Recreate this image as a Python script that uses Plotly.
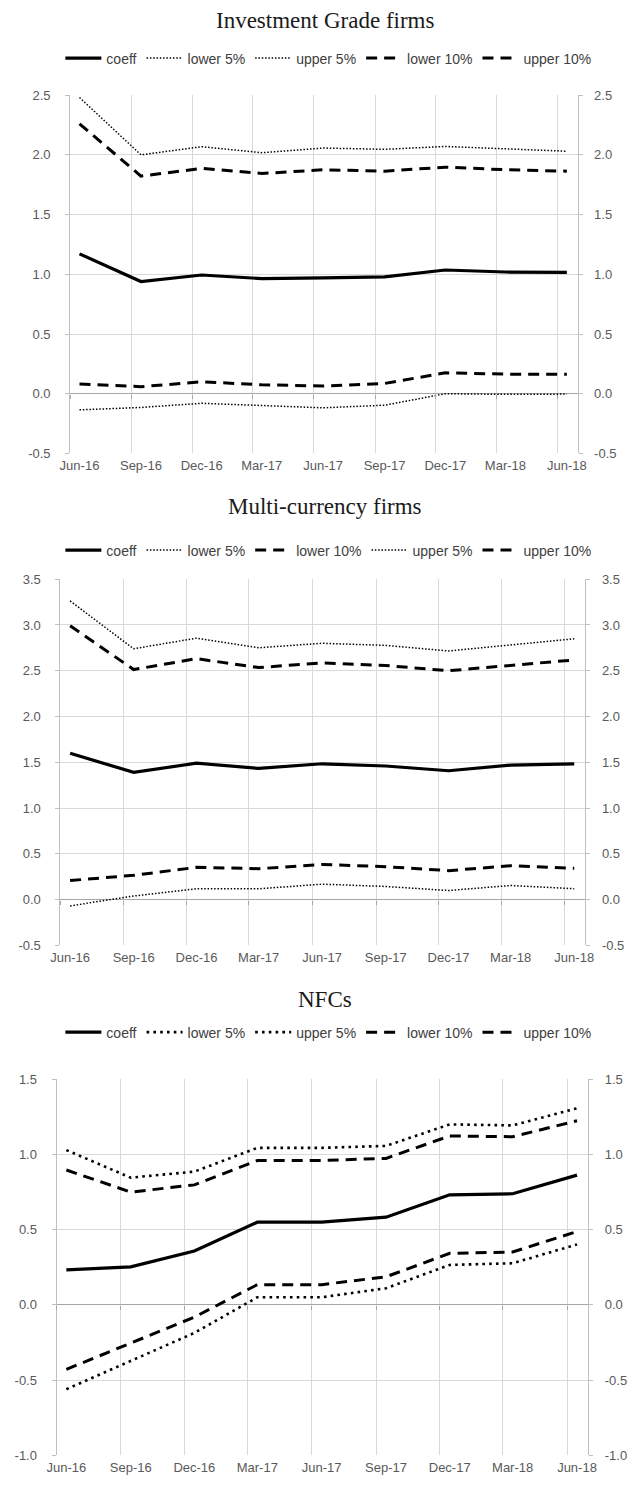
import plotly.graph_objects as go

# ---------------- data ----------------
quarter_labels = ["Jun-16", "Sep-16", "Dec-16", "Mar-17", "Jun-17", "Sep-17", "Dec-17", "Mar-18", "Jun-18"]
point_dates = ["2016-06-15", "2016-09-15", "2016-12-15", "2017-03-15", "2017-06-15",
               "2017-09-15", "2017-12-15", "2018-03-15", "2018-06-15"]
grid_dates = ["2016-06-01", "2016-09-01", "2016-12-01", "2017-03-01", "2017-06-01",
              "2017-09-01", "2017-12-01", "2018-03-01", "2018-06-01"]

ig_coeff = [1.171, 0.939, 0.994, 0.964, 0.970, 0.978, 1.036, 1.019, 1.016]
ig_lower5 = [-0.135, -0.115, -0.080, -0.100, -0.118, -0.096, 0.000, -0.005, -0.003]
ig_upper5 = [2.480, 2.000, 2.068, 2.018, 2.057, 2.046, 2.070, 2.050, 2.030]
ig_lower10 = [0.081, 0.059, 0.100, 0.075, 0.064, 0.086, 0.175, 0.164, 0.164]
ig_upper10 = [2.260, 1.822, 1.886, 1.844, 1.875, 1.863, 1.897, 1.875, 1.863]

mc_coeff = [1.599, 1.390, 1.490, 1.433, 1.484, 1.460, 1.408, 1.469, 1.484]
mc_lower5 = [-0.068, 0.040, 0.119, 0.119, 0.169, 0.144, 0.100, 0.155, 0.119]
mc_lower10 = [0.209, 0.266, 0.353, 0.338, 0.385, 0.360, 0.317, 0.371, 0.342]
mc_upper5 = [3.262, 2.740, 2.856, 2.751, 2.800, 2.777, 2.716, 2.784, 2.849]
mc_upper10 = [2.992, 2.513, 2.632, 2.535, 2.586, 2.557, 2.500, 2.560, 2.618]

nfc_coeff = [0.232, 0.252, 0.358, 0.549, 0.549, 0.582, 0.731, 0.738, 0.862]
nfc_lower5 = [-0.561, -0.372, -0.187, 0.050, 0.050, 0.110, 0.265, 0.276, 0.401]
nfc_upper5 = [1.028, 0.845, 0.885, 1.043, 1.043, 1.056, 1.199, 1.192, 1.306]
nfc_lower10 = [-0.429, -0.257, -0.082, 0.134, 0.134, 0.186, 0.342, 0.351, 0.487]
nfc_upper10 = [0.896, 0.749, 0.797, 0.959, 0.959, 0.973, 1.122, 1.117, 1.223]

titles = ["Investment Grade firms", "Multi-currency firms", "NFCs"]

# ---------------- layout geometry ----------------
W, H = 636, 1489
def fy(p):
    return 1 - p / H

panels = [
    dict(x0=62, x1=585, y0=89, y1=451, yr=[-0.5, 2.5], dt=0.5, title_y=14, leg_y=52,
         series=[("coeff", ig_coeff, "solid"), ("lower 5%", ig_lower5, "dot"), ("upper 5%", ig_upper5, "dot"),
                 ("lower 10%", ig_lower10, "dash"), ("upper 10%", ig_upper10, "dash")], thick_dot=False),
    dict(x0=52, x1=593, y0=578, y1=948, yr=[-0.5, 3.5], dt=0.5, title_y=505, leg_y=549,
         series=[("coeff", mc_coeff, "solid"), ("lower 5%", mc_lower5, "dot"), ("lower 10%", mc_lower10, "dash"),
                 ("upper 5%", mc_upper5, "dot"), ("upper 10%", mc_upper10, "dash")], thick_dot=False),
    dict(x0=48, x1=596, y0=1083, y1=1463, yr=[-1.0, 1.5], dt=0.5, title_y=1003, leg_y=1036,
         series=[("coeff", nfc_coeff, "solid"), ("lower 5%", nfc_lower5, "dot"), ("upper 5%", nfc_upper5, "dot"),
                 ("lower 10%", nfc_lower10, "dash"), ("upper 10%", nfc_upper10, "dash")], thick_dot=True),
]

fig = go.Figure()
GRID = "#d9d9d9"
AXIS = "#bfbfbf"
ZERO = "#a6a6a6"
TICKFONT = dict(family="Liberation Sans, Arial", size=13, color="#595959")
x_range = ["2016-06-01", "2018-07-01"]

for i, p in enumerate(panels):
    xa = "x" + (str(i + 1) if i else "")
    xz = f"x{i + 4}"
    ya = "y" + (str(2 * i + 1) if i else "")
    yb = f"y{2 * i + 2}"
    xa_key = "xaxis" + (str(i + 1) if i else "")
    xz_key = f"xaxis{i + 4}"
    ya_key = "yaxis" + (str(2 * i + 1) if i else "")
    yb_key = f"yaxis{2 * i + 2}"
    legend_name = "legend" + (str(i + 1) if i else "")

    for name, vals, style in p["series"]:
        if style == "solid":
            line = dict(color="black", width=3.2)
        elif style == "dash":
            line = dict(color="black", width=3, dash="11px,7px")
        else:
            if p["thick_dot"]:
                line = dict(color="black", width=2.6, dash="2.6px,4.2px")
            else:
                line = dict(color="black", width=1.5, dash="1.5px,1.8px")
        fig.add_trace(go.Scatter(x=point_dates, y=vals, mode="lines", name=name, line=line,
                                 xaxis=xa, yaxis=ya, legend=legend_name, hoverinfo="skip"))
    # invisible traces carrying the right-hand axis and the zero-line tick axis
    fig.add_trace(go.Scatter(x=point_dates, y=p["series"][0][1], mode="lines",
                             line=dict(width=0, color="rgba(0,0,0,0)"),
                             xaxis=xa, yaxis=yb, showlegend=False, hoverinfo="skip"))
    fig.add_trace(go.Scatter(x=point_dates, y=p["series"][0][1], mode="lines",
                             line=dict(width=0, color="rgba(0,0,0,0)"),
                             xaxis=xz, yaxis=ya, showlegend=False, hoverinfo="skip"))

    dom_x = [p["x0"] / W, p["x1"] / W]
    dom_y = [fy(p["y1"]), fy(p["y0"])]
    zero_pos = dom_y[0] + (0 - p["yr"][0]) / (p["yr"][1] - p["yr"][0]) * (dom_y[1] - dom_y[0])
    nt = int(round((p["yr"][1] - p["yr"][0]) / p["dt"])) + 1
    ticks_y = [round(p["yr"][0] + k * p["dt"], 2) for k in range(nt)]
    tick_text = [f"{v:.1f}" for v in ticks_y]

    fig.update_layout(**{
        xa_key: dict(domain=dom_x, anchor=ya, type="date", range=x_range,
                     tickmode="array", tickvals=point_dates, ticktext=quarter_labels,
                     showgrid=False, ticks="", showline=False, zeroline=False,
                     tickfont=TICKFONT, ticklabelstandoff=3,
                     minor=dict(tickmode="array", tickvals=grid_dates, showgrid=True,
                                gridcolor=GRID, gridwidth=1, ticks="")),
        xz_key: dict(domain=dom_x, overlaying=xa, anchor="free", position=zero_pos, side="bottom",
                     type="date", range=x_range, tickmode="array", tickvals=grid_dates,
                     showticklabels=False, showgrid=False, ticks="outside", ticklen=4,
                     tickcolor=ZERO, tickwidth=1, showline=False, zeroline=False),
        ya_key: dict(domain=dom_y, anchor=xa, range=p["yr"], tickmode="array", tickvals=ticks_y,
                     ticktext=tick_text, showgrid=True, gridcolor=GRID, gridwidth=1,
                     showline=True, linecolor=AXIS, linewidth=1,
                     ticks="outside", ticklen=4, tickcolor=AXIS, zeroline=True, zerolinecolor=ZERO,
                     zerolinewidth=1, tickfont=TICKFONT, ticklabelstandoff=12),
        yb_key: dict(domain=dom_y, anchor=xa, overlaying=ya, side="right", range=p["yr"],
                     tickmode="array", tickvals=ticks_y, ticktext=tick_text, showgrid=False,
                     showline=True, linecolor=AXIS, linewidth=1,
                     ticks="outside", ticklen=4, tickcolor=AXIS, zeroline=False, tickfont=TICKFONT,
                     ticklabelstandoff=9),
        legend_name: dict(orientation="h", x=0.516, xanchor="center", y=fy(p["leg_y"]), yanchor="middle",
                          font=dict(family="Liberation Sans, Arial", size=14, color="#404040"),
                          bgcolor="rgba(0,0,0,0)", itemwidth=36, tracegroupgap=0),
    })
    fig.add_annotation(text=titles[i], x=0.511, xref="paper", y=fy(p["title_y"]), yref="paper",
                       xanchor="center", yanchor="middle", showarrow=False,
                       font=dict(family="Liberation Serif, Times New Roman", size=23, color="#1a1a1a"))

fig.update_layout(width=W, height=H, margin=dict(l=0, r=0, t=0, b=0),
                  paper_bgcolor="white", plot_bgcolor="white")

fig.write_html("out.html", config={"displayModeBar": False},
               post_script="document.body.style.margin='0px';")
